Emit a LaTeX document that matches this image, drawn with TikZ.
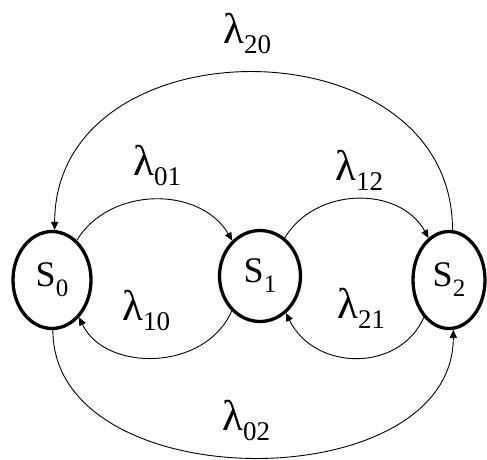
\documentclass[tikz,border=0pt]{standalone}
\usepackage{fontspec}
\setmainfont{Liberation Serif}
\usetikzlibrary{shapes.geometric,arrows.meta}
\newcommand{\lamsub}[1]{{\fontsize{43}{43}\selectfont λ}\raisebox{-10pt}{\fontsize{27}{27}\selectfont #1}}
\newcommand{\ssub}[1]{{\fontsize{36}{36}\selectfont S}\raisebox{-10pt}{\fontsize{25}{25}\selectfont #1}}
\begin{document}
\begin{tikzpicture}[x=1pt,y=-1pt,
  state/.style={ellipse,draw,line width=3.3pt,inner sep=0pt},
  lab/.style={anchor=base west,inner sep=0pt},
  trans/.style={line width=0.9pt,-{Triangle[length=8pt,width=7pt]}}]
\useasboundingbox[fill=white] (0,0) rectangle (487,459);
\node[state,minimum width=78pt,minimum height=97pt] (S0) at (52,280) {\ssub{0}};
\node[state,minimum width=81pt,minimum height=91pt] (S1) at (260,276) {\ssub{1}};
\node[state,minimum width=72pt,minimum height=97pt] (S2) at (449,280) {\ssub{2}};
% labels
\node[lab] (l20) at (223,43) {\lamsub{20}};
\node[lab] (l01) at (133,175) {\lamsub{01}};
\node[lab] (l12) at (335,180) {\lamsub{12}};
\node[lab] (l10) at (122,320) {\lamsub{10}};
\node[lab] (l21) at (337,318) {\lamsub{21}};
\node[lab] (l02) at (222,430) {\lamsub{02}};
% transitions
\draw[trans] (S2.86) .. controls (453,20) and (55,20) .. (S0.87);
\draw[trans] (S0.58) .. controls (110,186) and (200,186) .. (S1.128);
\draw[trans] (S1.57) .. controls (316,186) and (400,186) .. (S2.116);
\draw[trans] (S1.231) .. controls (205,372) and (105,372) .. (S0.306);
\draw[trans] (S2.236) .. controls (400,372) and (315,372) .. (S1.305);
\draw[trans] (S0.271) .. controls (53,500) and (453,500) .. (S2.275);
\end{tikzpicture}
\end{document}
